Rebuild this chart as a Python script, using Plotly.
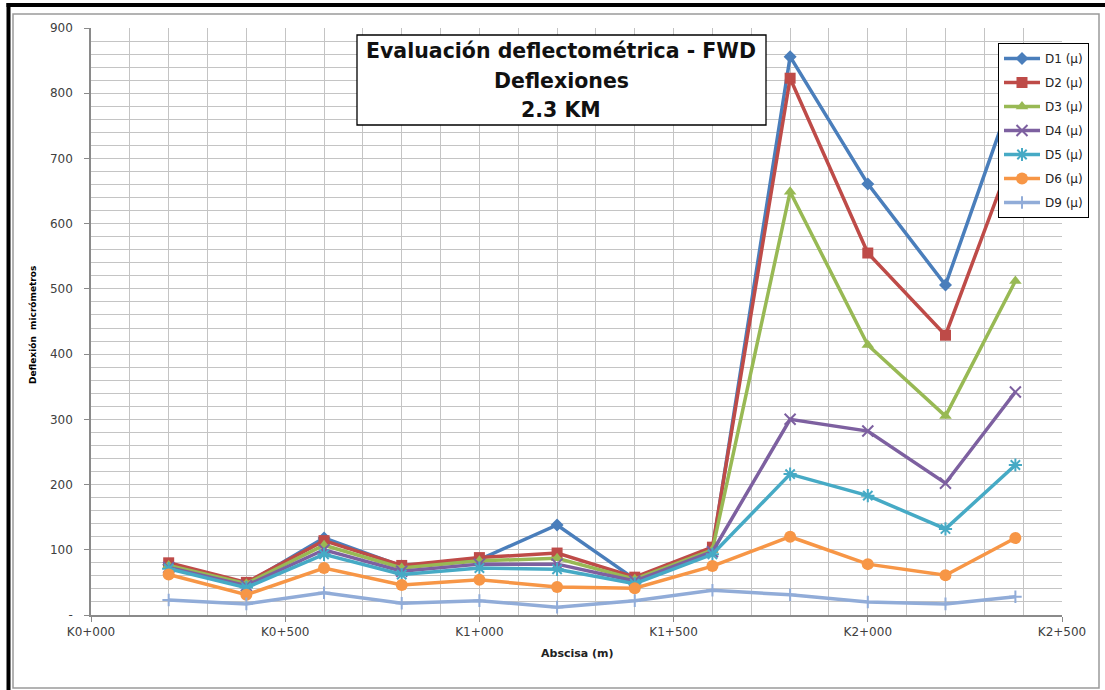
import plotly.graph_objects as go

# ---- data ----
abscisa_m = [200, 400, 600, 800, 1000, 1200, 1400, 1600, 1800, 2000, 2200, 2380]
D1 = [77, 48, 118, 75, 85, 138, 55, 100, 856, 661, 506, 810]
D2 = [80, 50, 114, 76, 88, 95, 58, 104, 823, 555, 429, 716]
D3 = [76, 48, 107, 72, 83, 87, 55, 100, 649, 414, 305, 512]
D4 = [73, 45, 100, 67, 78, 78, 52, 97, 300, 282, 202, 342]
D5 = [71, 42, 93, 62, 72, 70, 48, 93, 216, 183, 132, 230]
D6 = [62, 31, 72, 46, 54, 43, 41, 75, 120, 78, 61, 118]
D9 = [23, 17, 34, 18, 22, 12, 22, 38, 31, 20, 17, 28]

series_names = ["D1 (µ)", "D2 (µ)", "D3 (µ)", "D4 (µ)", "D5 (µ)", "D6 (µ)", "D9 (µ)"]
series_values = [D1, D2, D3, D4, D5, D6, D9]
colors = ["#4A7EBB", "#BE4B48", "#98B954", "#7D60A0", "#46AAC5", "#F79646", "#91ACD8"]
symbols = ["diamond", "square", "triangle-up", "x-thin-open", "asterisk-open", "circle", "cross-thin-open"]
sizes = [10, 11, 11, 11, 11, 12, 9]

x_tickvals = [0, 500, 1000, 1500, 2000, 2500]
x_ticktext = ["K0+000", "K0+500", "K1+000", "K1+500", "K2+000", "K2+500"]
y_tickvals = [0, 100, 200, 300, 400, 500, 600, 700, 800, 900]
y_ticktext = ["-", "100", "200", "300", "400", "500", "600", "700", "800", "900"]

W, H = 1105, 690
L, R, T, B = 91, 1062, 28, 615


def px(x):
    return (x - L) / (R - L)


def py(y):
    return (B - y) / (B - T)


FONT = "DejaVu Sans"
fig = go.Figure()
for i, (name, vals) in enumerate(zip(series_names, series_values)):
    thin = symbols[i].endswith("open")
    fig.add_trace(go.Scatter(
        x=abscisa_m, y=vals, name=name, mode="lines+markers",
        legendgroup=name,
        line=dict(color=colors[i], width=3.5),
        marker=dict(symbol=symbols[i], size=sizes[i], color=colors[i],
                    line=dict(color=colors[i], width=2 if thin else 0)),
    ))

grid = "#c4c4c4"
axline = "#8a8a8a"
fig.update_xaxes(
    range=[0, 2500], tickvals=x_tickvals, ticktext=x_ticktext,
    showgrid=True, gridcolor=grid, gridwidth=1.3,
    minor=dict(dtick=100, showgrid=True, gridcolor=grid, gridwidth=1.3),
    showline=True, linecolor=axline, linewidth=1.5,
    ticks="outside", ticklen=5, tickcolor=axline,
    tickfont=dict(family=FONT, size=12, color="#404040"),
    zeroline=False,
)
fig.update_yaxes(
    range=[0, 900], tickvals=y_tickvals, ticktext=y_ticktext,
    showgrid=True, gridcolor=grid, gridwidth=1.3,
    minor=dict(dtick=20, showgrid=True, gridcolor=grid, gridwidth=1.3),
    showline=True, linecolor=axline, linewidth=1.5,
    ticks="outside", ticklen=5, tickcolor=axline, ticklabelstandoff=9,
    tickfont=dict(family=FONT, size=12, color="#404040"),
    zeroline=False,
)

shapes = [
    # outer gray frame
    dict(type="rect", xref="paper", yref="paper", x0=px(13), x1=px(1099), y0=py(688), y1=py(14),
         line=dict(color="#9a9a9a", width=1.5), layer="below"),
    # thick black left and top border
    dict(type="line", xref="paper", yref="paper", x0=px(8.5), x1=px(8.5), y0=py(690), y1=py(3),
         line=dict(color="black", width=4)),
    dict(type="line", xref="paper", yref="paper", x0=px(6.5), x1=px(1105), y0=py(5), y1=py(5),
         line=dict(color="black", width=4)),
    # title box
    dict(type="rect", xref="paper", yref="paper", x0=px(357), x1=px(766), y0=py(125), y1=py(35),
         line=dict(color="black", width=1.3), fillcolor="white", layer="above"),
]

title_lines = ["Evaluación deflectométrica - FWD", "Deflexiones", "2.3 KM"]
title_ys = [51, 81, 110]
annotations = []
for t, yy in zip(title_lines, title_ys):
    annotations.append(dict(text=f"<b>{t}</b>", xref="paper", yref="paper", x=px(561), y=py(yy),
                            showarrow=False, xanchor="center", yanchor="middle",
                            font=dict(family=FONT, size=20.5, color="#111111")))
annotations.append(dict(text="<b>Deflexión\u00a0\u00a0micrómetros</b>", xref="paper", yref="paper",
                        x=px(33), y=py(325), textangle=-90, showarrow=False,
                        xanchor="center", yanchor="middle",
                        font=dict(family=FONT, size=9, color="black")))
annotations.append(dict(text="<b>Abscisa (m)</b>", xref="paper", yref="paper",
                        x=px(577), y=py(653), showarrow=False,
                        xanchor="center", yanchor="middle",
                        font=dict(family=FONT, size=11, color="#222222")))

fig.update_layout(
    width=W, height=H,
    margin=dict(l=L, r=W - R, t=T, b=H - B),
    paper_bgcolor="white", plot_bgcolor="white",
    showlegend=True,
    legend=dict(x=px(998), y=py(43), xanchor="left", yanchor="top",
                bgcolor="white", bordercolor="black", borderwidth=1,
                font=dict(family=FONT, size=12, color="#222222"),
                tracegroupgap=5, itemwidth=36),
    shapes=shapes, annotations=annotations,
)

fig.write_html("out.html")
